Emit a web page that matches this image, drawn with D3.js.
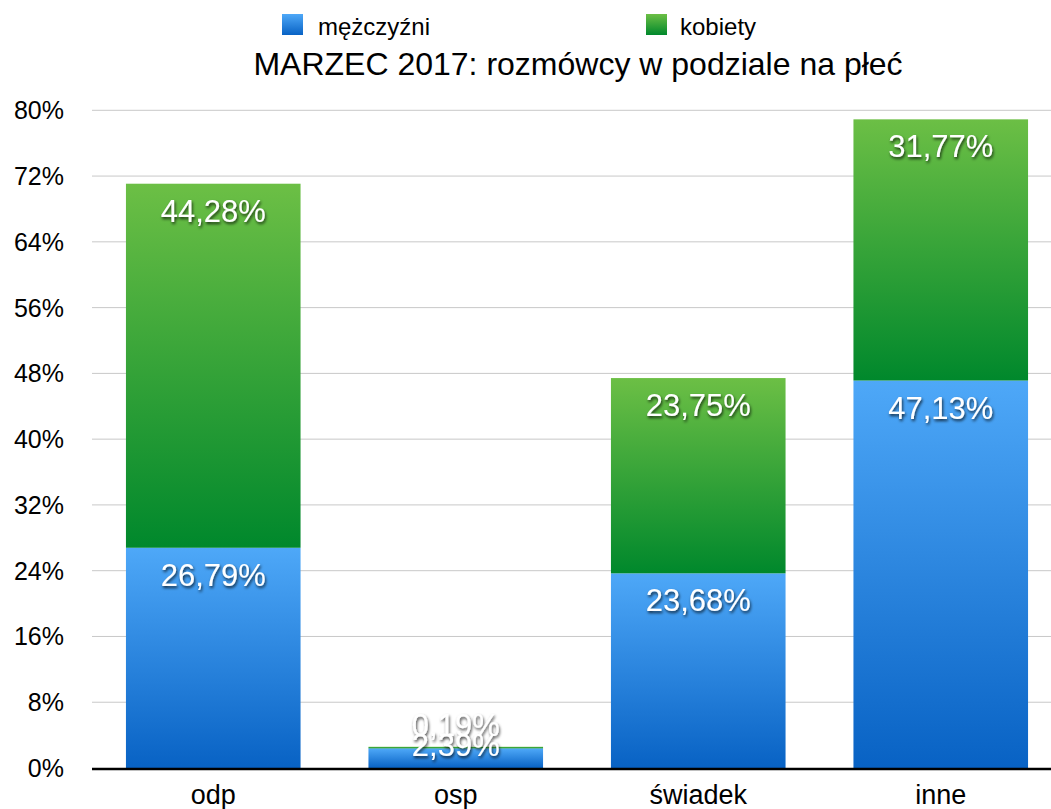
<!DOCTYPE html>
<html><head><meta charset="utf-8">
<script src="https://cdn.jsdelivr.net/npm/d3@7"></script>
<style>body{margin:0;background:#fff}svg{display:block;font-family:"Liberation Sans",Arial,Helvetica,sans-serif}</style>
</head><body><svg id="c" width="1051" height="809"></svg>
<script>
const categories = ["odp", "osp", "świadek", "inne"];
const men = [26.79, 2.39, 23.68, 47.13];
const women = [44.28, 0.19, 23.75, 31.77];
const menLabels = ["26,79%", "2,39%", "23,68%", "47,13%"];
const womenLabels = ["44,28%", "0,19%", "23,75%", "31,77%"];
const yTicks = [0, 8, 16, 24, 32, 40, 48, 56, 64, 72, 80];
const seriesNames = ["mężczyźni", "kobiety"];
const title = "MARZEC 2017: rozmówcy w podziale na płeć";

const svg = d3.select("#c");
const x = d3.scaleBand().domain(categories).range([92, 1062]);
const y = d3.scaleLinear().domain([0, 80]).range([768, 110.3]);
const barW = x.bandwidth() * 0.72;

const defs = svg.append("defs");
function grad(id, c1, c2) {
  const g = defs.append("linearGradient").attr("id", id).attr("x1", 0).attr("y1", 0).attr("x2", 0).attr("y2", 1);
  g.append("stop").attr("offset", "0%").attr("stop-color", c1);
  g.append("stop").attr("offset", "100%").attr("stop-color", c2);
}
grad("gBlue", "#4ea8f8", "#0862c4");
grad("gGreen", "#6cbf45", "#00882c");
const f = defs.append("filter").attr("id", "sh").attr("x", "-20%").attr("y", "-30%").attr("width", "140%").attr("height", "160%");
f.append("feDropShadow").attr("dx", 1).attr("dy", 2).attr("stdDeviation", 1.5).attr("flood-color", "#000").attr("flood-opacity", 0.75);

// grid
svg.append("g").selectAll("line").data(yTicks.filter(d => d > 0)).join("line")
  .attr("x1", 92).attr("x2", 1051).attr("y1", d => y(d)).attr("y2", d => y(d))
  .attr("stroke", "#c8c8c8").attr("stroke-width", 1);

// y tick labels
svg.append("g").selectAll("text").data(yTicks).join("text")
  .attr("x", 64).attr("y", d => y(d) + 9).attr("text-anchor", "end")
  .attr("font-size", 25).attr("fill", "#000").text(d => d + "%");

const data = categories.map((c, i) => ({ c, m: men[i], w: women[i], ml: menLabels[i], wl: womenLabels[i] }));

const bars = svg.append("g");
data.forEach(d => {
  const x0 = x(d.c) + (x.bandwidth() - barW) / 2;
  bars.append("rect").attr("x", x0).attr("width", barW)
    .attr("y", y(d.m)).attr("height", y(0) - y(d.m)).attr("fill", "url(#gBlue)");
  bars.append("rect").attr("x", x0).attr("width", barW)
    .attr("y", y(d.m + d.w)).attr("height", y(d.m) - y(d.m + d.w)).attr("fill", "url(#gGreen)");
});

// axis line
svg.append("line").attr("x1", 92).attr("x2", 1051).attr("y1", y(0) + 1).attr("y2", y(0) + 1)
  .attr("stroke", "#000").attr("stroke-width", 2.5);

// labels
const lab = svg.append("g").attr("filter", "url(#sh)");
data.forEach(d => {
  const cx = x(d.c) + x.bandwidth() / 2;
  const segs = [
    { top: y(d.m), bot: y(0), t: d.ml },
    { top: y(d.m + d.w), bot: y(d.m), t: d.wl }
  ];
  segs.forEach(s => {
    lab.append("text").attr("x", cx).attr("y", Math.min(s.top + 38, s.bot - 12))
      .attr("text-anchor", "middle").attr("font-size", 31).attr("fill", "#fff").text(s.t);
  });
});

// category labels
svg.append("g").selectAll("text").data(categories).join("text")
  .attr("x", d => x(d) + x.bandwidth() / 2).attr("y", 804).attr("text-anchor", "middle")
  .attr("font-size", 27).attr("fill", "#000").text(d => d);

// title
svg.append("text").attr("x", 578).attr("y", 75).attr("text-anchor", "middle")
  .attr("font-size", 32).attr("fill", "#000").text(title);

// legend
const leg = [{ n: seriesNames[0], g: "url(#gBlue)", x: 282, tx: 318 }, { n: seriesNames[1], g: "url(#gGreen)", x: 646, tx: 680 }];
leg.forEach(l => {
  svg.append("rect").attr("x", l.x).attr("y", 14).attr("width", 21).attr("height", 21).attr("fill", l.g);
  svg.append("text").attr("x", l.tx).attr("y", 35).attr("font-size", 24).attr("fill", "#000").text(l.n);
});
</script></body></html>
